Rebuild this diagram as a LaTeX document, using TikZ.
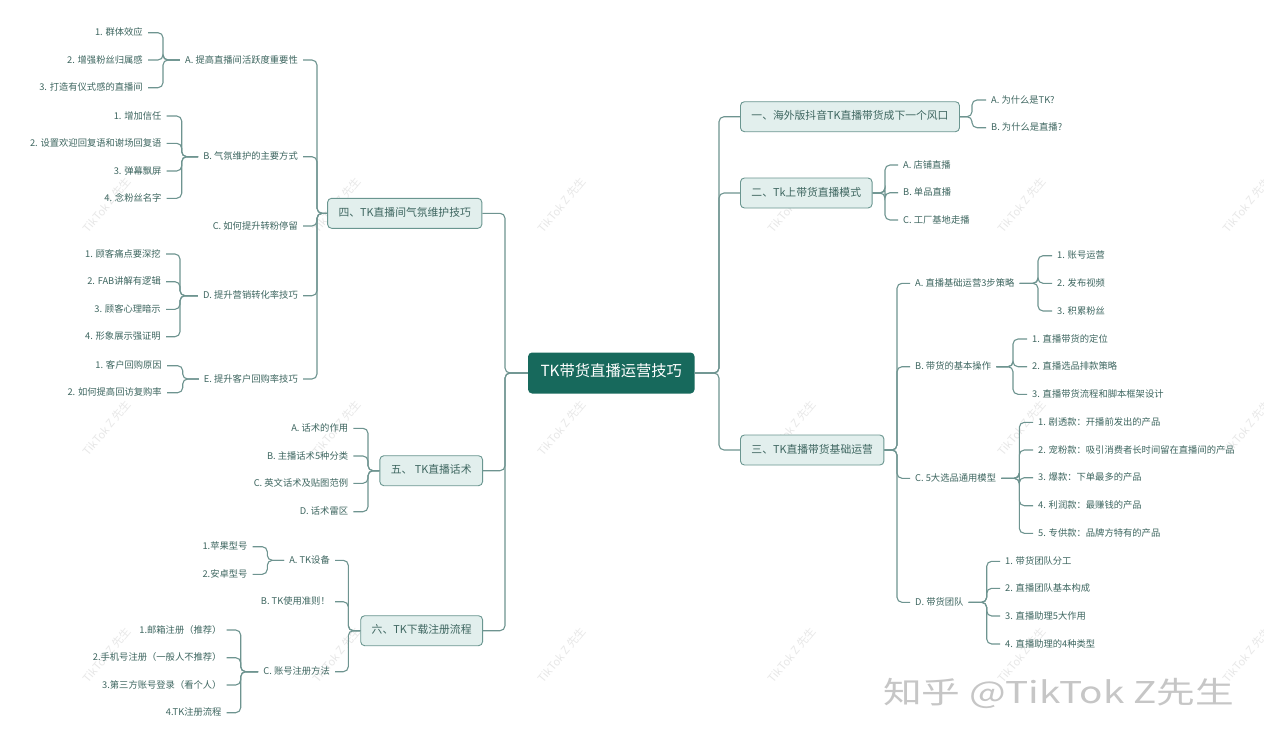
\documentclass[tikz,border=0pt]{standalone}
\usepackage{fontspec}
\setmainfont{Noto Sans CJK SC}
\definecolor{lineC}{HTML}{6E9490}
\definecolor{txtC}{HTML}{3E6660}
\definecolor{boxF}{HTML}{E2EFED}
\definecolor{boxD}{HTML}{6A9690}
\definecolor{rootF}{HTML}{17695C}
\definecolor{wmC}{HTML}{E8E8E8}
\definecolor{bigwm}{HTML}{C6C6C6}
\tikzset{
  conn/.style={draw=lineC, line width=1.1pt, rounded corners=5pt},
  leaf/.style={font=\fontsize{9.3}{11}\selectfont, text=txtC, inner xsep=5pt, inner ysep=1pt, text height=0.8em, text depth=0.2em},
  rleaf/.style={leaf, anchor=west},
  lleaf/.style={leaf, anchor=east},
  mainbox/.style={draw=boxD, fill=boxF, rounded corners=4pt, line width=0.9pt, minimum height=30pt, inner xsep=11pt, inner ysep=0pt, font=\fontsize{10.8}{13}\selectfont, text=txtC, text height=0.8em, text depth=0.2em},
  rootbox/.style={fill=rootF, rounded corners=4pt, minimum height=41pt, inner xsep=12.5pt, inner ysep=0pt, text=white, font=\fontsize{15.3}{18}\selectfont, text height=0.8em, text depth=0.2em},
  wmark/.style={text=wmC, rotate=50, inner sep=0pt, font=\fontsize{11}{12}\selectfont},
}
\newcommand\rconn[3]{\draw[conn] (#1.east) -| (#2 |- #3.west) -- (#3.west);}
\newcommand\lconn[3]{\draw[conn] (#1.west) -| (#2 |- #3.east) -- (#3.east);}
\begin{document}
\begin{tikzpicture}[x=1pt,y=-1pt]
\useasboundingbox (0,0) rectangle (1264,747);
\fill[white] (0,0) rectangle (1264,747);
% watermarks
\foreach \wx in {107,337,562,792,1022,1247}{
  \foreach \wy in {205,428,655}{
    \node[wmark] at (\wx,\wy) {TikTok Z 先生};
  }
}
\node[text=bigwm, font=\fontsize{30}{34}\selectfont, xscale=1.29, anchor=center] (zh) at (1058.5,693) {知乎 @TikTok Z先生};

% root
\node[rootbox] (r) at (611.3,373) {TK带货直播运营技巧};

% bracket coordinates
\coordinate (bR) at (719,0);
\coordinate (bL) at (505,0);
\coordinate (b1) at (972,0);
\coordinate (b2) at (885,0);
\coordinate (b3) at (897,0);
\coordinate (b3a) at (1038,0);
\coordinate (b3b) at (1013,0);
\coordinate (b3c) at (1019.3,0);
\coordinate (b3d) at (986.7,0);
\coordinate (b4) at (317,0);
\coordinate (b4a) at (163,0);
\coordinate (b4b) at (181.7,0);
\coordinate (b4d) at (180,0);
\coordinate (b4e) at (182.7,0);
\coordinate (b5) at (368,0);
\coordinate (b6) at (348.3,0);
\coordinate (b6a) at (267.3,0);
\coordinate (b6c) at (240.7,0);

% main boxes
\node[mainbox, anchor=west] (m1) at (740,116.7) {一、海外版抖音TK直播带货成下一个风口};
\node[mainbox, anchor=west] (m2) at (740,193) {二、Tk上带货直播模式};
\node[mainbox, anchor=west] (m3) at (740,450) {三、TK直播带货基础运营};
\node[mainbox, anchor=east] (m4) at (482.3,213.3) {四、TK直播间气氛维护技巧};
\node[mainbox, anchor=east] (m5) at (483,470.7) {五、 TK直播话术};
\node[mainbox, anchor=east] (m6) at (483,630.7) {六、TK下载注册流程};

% branch 1
\node[rleaf] (m1a) at (986,100) {A. 为什么是TK?};
\node[rleaf] (m1b) at (986,127.7) {B. 为什么是直播?};
% branch 2
\node[rleaf] (m2a) at (898,165) {A. 店铺直播};
\node[rleaf] (m2b) at (898,192.7) {B. 单品直播};
\node[rleaf] (m2c) at (898,220) {C. 工厂基地走播};
% branch 3
\node[rleaf] (m3a) at (910,283.3) {A. 直播基础运营3步策略};
\node[rleaf] (m3b) at (910,366.7) {B. 带货的基本操作};
\node[rleaf] (m3c) at (910,478.3) {C. 5大选品通用模型};
\node[rleaf] (m3d) at (910,602.3) {D. 带货团队};
\node[rleaf] (m3a1) at (1052,255.7) {1. 账号运营};
\node[rleaf] (m3a2) at (1052,283.3) {2. 发布视频};
\node[rleaf] (m3a3) at (1052,311) {3. 积累粉丝};
\node[rleaf] (m3b1) at (1027,339) {1. 直播带货的定位};
\node[rleaf] (m3b2) at (1027,366.7) {2. 直播选品排款策略};
\node[rleaf] (m3b3) at (1027,394.3) {3. 直播带货流程和脚本框架设计};
\node[rleaf] (m3c1) at (1033,422.3) {1. 剧透款：开播前发出的产品};
\node[rleaf] (m3c2) at (1033,450) {2. 宠粉款：吸引消费者长时间留在直播间的产品};
\node[rleaf] (m3c3) at (1033,477.7) {3. 爆款：下单最多的产品};
\node[rleaf] (m3c4) at (1033,505.7) {4. 利润款：最赚钱的产品};
\node[rleaf] (m3c5) at (1033,533.3) {5. 专供款：品牌方特有的产品};
\node[rleaf] (m3d1) at (1000,561.3) {1. 带货团队分工};
\node[rleaf] (m3d2) at (1000,588.3) {2. 直播团队基本构成};
\node[rleaf] (m3d3) at (1000,616) {3. 直播助理5大作用};
\node[rleaf] (m3d4) at (1000,644) {4. 直播助理的4种类型};

% branch 4
\node[lleaf] (m4a) at (303,60) {A. 提高直播间活跃度重要性};
\node[lleaf] (m4b) at (303,156.7) {B. 气氛维护的主要方式};
\node[lleaf] (m4c) at (303,226) {C. 如何提升转粉停留};
\node[lleaf] (m4d) at (303,295.7) {D. 提升营销转化率技巧};
\node[lleaf] (m4e) at (303,379) {E. 提升客户回购率技巧};
\node[lleaf] (m4a1) at (148,32.7) {1. 群体效应};
\node[lleaf] (m4a2) at (148,60) {2. 增强粉丝归属感};
\node[lleaf] (m4a3) at (148,87.7) {3. 打造有仪式感的直播间};
\node[lleaf] (m4b1) at (166.7,116) {1. 增加信任};
\node[lleaf] (m4b2) at (166.7,143.3) {2. 设置欢迎回复语和谢场回复语};
\node[lleaf] (m4b3) at (166.7,171) {3. 弹幕飘屏};
\node[lleaf] (m4b4) at (166.7,198.3) {4. 念粉丝名字};
\node[lleaf] (m4d1) at (166,254) {1. 顾客痛点要深挖};
\node[lleaf] (m4d2) at (166,281.7) {2. FAB讲解有逻辑};
\node[lleaf] (m4d3) at (166,309.3) {3. 顾客心理暗示};
\node[lleaf] (m4d4) at (166,336.7) {4. 形象展示强证明};
\node[lleaf] (m4e1) at (167,365.7) {1. 客户回购原因};
\node[lleaf] (m4e2) at (167,392.7) {2. 如何提高回访复购率};
% branch 5
\node[lleaf] (m5a) at (353.3,428.3) {A. 话术的作用};
\node[lleaf] (m5b) at (353.3,456) {B. 主播话术5种分类};
\node[lleaf] (m5c) at (353.3,483.3) {C. 英文话术及贴图范例};
\node[lleaf] (m5d) at (353.3,511.7) {D. 话术雷区};
% branch 6
\node[lleaf] (m6a) at (335,560.3) {A. TK设备};
\node[lleaf] (m6b) at (335,601.7) {B. TK使用准则！};
\node[lleaf] (m6c) at (335,671.7) {C. 账号注册方法};
\node[lleaf] (m6a1) at (252.7,546.7) {1.苹果型号};
\node[lleaf] (m6a2) at (252.7,574.3) {2.安卓型号};
\node[lleaf] (m6c1) at (226.7,630) {1.邮箱注册（推荐）};
\node[lleaf] (m6c2) at (226.7,657.7) {2.手机号注册（一般人不推荐）};
\node[lleaf] (m6c3) at (226.7,685) {3.第三方账号登录（看个人）};
\node[lleaf] (m6c4) at (226.7,712.7) {4.TK注册流程};

% connectors right
\foreach \c in {m1,m2,m3}{\rconn{r}{bR}{\c}}
\foreach \c in {m1a,m1b}{\rconn{m1}{b1}{\c}}
\foreach \c in {m2a,m2b,m2c}{\rconn{m2}{b2}{\c}}
\foreach \c in {m3a,m3b,m3c,m3d}{\rconn{m3}{b3}{\c}}
\foreach \c in {m3a1,m3a2,m3a3}{\rconn{m3a}{b3a}{\c}}
\foreach \c in {m3b1,m3b2,m3b3}{\rconn{m3b}{b3b}{\c}}
\foreach \c in {m3c1,m3c2,m3c3,m3c4,m3c5}{\rconn{m3c}{b3c}{\c}}
\foreach \c in {m3d1,m3d2,m3d3,m3d4}{\rconn{m3d}{b3d}{\c}}
% connectors left
\foreach \c in {m4,m5,m6}{\lconn{r}{bL}{\c}}
\foreach \c in {m4a,m4b,m4c,m4d,m4e}{\lconn{m4}{b4}{\c}}
\foreach \c in {m4a1,m4a2,m4a3}{\lconn{m4a}{b4a}{\c}}
\foreach \c in {m4b1,m4b2,m4b3,m4b4}{\lconn{m4b}{b4b}{\c}}
\foreach \c in {m4d1,m4d2,m4d3,m4d4}{\lconn{m4d}{b4d}{\c}}
\foreach \c in {m4e1,m4e2}{\lconn{m4e}{b4e}{\c}}
\foreach \c in {m5a,m5b,m5c,m5d}{\lconn{m5}{b5}{\c}}
\foreach \c in {m6a,m6b,m6c}{\lconn{m6}{b6}{\c}}
\foreach \c in {m6a1,m6a2}{\lconn{m6a}{b6a}{\c}}
\foreach \c in {m6c1,m6c2,m6c3,m6c4}{\lconn{m6c}{b6c}{\c}}
\end{tikzpicture}
\end{document}
